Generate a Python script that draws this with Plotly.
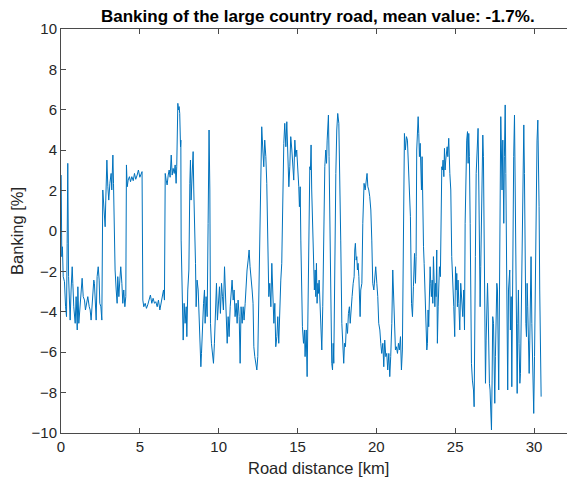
import plotly.graph_objects as go

# Road distance [km] and banking [%] along the large country road, section by section.
km_a = [0.01, 0.03, 0.05, 0.09, 0.14, 0.22, 0.29, 0.35, 0.39, 0.43, 0.48, 0.52, 0.58, 0.64, 0.71, 0.75,
        0.81, 0.90, 0.96, 1.03, 1.07, 1.13, 1.19, 1.28, 1.34, 1.41, 1.49, 1.55, 1.62, 1.70, 1.79, 1.85,
        1.91, 1.98, 2.04, 2.08, 2.12, 2.17, 2.23, 2.29, 2.36, 2.42, 2.46, 2.53, 2.59, 2.65, 2.72, 2.76,
        2.80, 2.84, 2.91, 2.97, 3.03, 3.10, 3.18, 3.22, 3.29, 3.33, 3.39, 3.43, 3.50, 3.56, 3.60, 3.67,
        3.73, 3.79, 3.86, 3.92, 3.98, 4.05, 4.11, 4.15, 4.20, 4.26, 4.34, 4.41, 4.49, 4.58, 4.66, 4.74,
        4.83, 4.91, 5.00, 5.08, 5.14, 5.19, 5.25, 5.34, 5.42, 5.50, 5.59, 5.67, 5.76, 5.84, 5.93, 6.01,
        6.10, 6.18, 6.27, 6.35, 6.44, 6.50, 6.56, 6.61, 6.67, 6.73, 6.80, 6.86, 6.92, 6.99, 7.05, 7.11,
        7.18, 7.24, 7.30, 7.34, 7.41, 7.45, 7.49, 7.53, 7.58, 7.60]
bank_a = [2.77, 0.71, -1.27, -0.78, -2.26, -2.51, -3.75, -4.24, -0.61, 3.35, -2.26, -3.25, -4.41, -2.92, -1.77, -2.59,
          -3.75, -4.57, -3.25, -4.90, -2.76, -4.57, -3.91, -2.59, -2.34, -3.25, -3.42, -3.91, -3.58, -3.25, -3.75, -3.91,
          -4.41, -3.42, -2.92, -2.43, -2.59, -3.58, -4.41, -2.26, -1.77, -2.43, -3.58, -3.75, -4.41, 2.03, 1.20, 0.71,
          0.21, 1.53, 3.51, 2.19, 1.53, 2.36, 2.85, 2.03, 3.76, 2.36, -0.94, -1.93, -2.92, -3.58, -2.26, -3.25,
          -2.43, -1.77, -2.59, -3.58, -2.92, -3.75, -3.25, 3.27, 2.19, 2.52, 2.69, 2.44, 2.69, 2.49, 2.85, 2.56,
          2.77, 3.02, 2.66, 2.85, 2.94, -3.42, -3.75, -3.58, -3.83, -3.66, -3.42, -3.17, -3.58, -3.33, -3.58, -3.50,
          -3.75, -3.42, -3.91, -3.58, -3.25, -2.92, -3.42, 2.85, 2.52, 2.28, 2.77, 3.02, 2.66, 3.76, 2.77, 3.10,
          2.85, 3.27, 2.36, 3.18, 6.32, 5.99, 6.16, 5.82, 4.17, 4.50]

km_b = [7.62, 7.70, 7.75, 7.81, 7.87, 7.94, 7.98, 8.04, 8.11, 8.17, 8.21, 8.25, 8.32, 8.38, 8.42, 8.49,
        8.53, 8.57, 8.63, 8.70, 8.76, 8.82, 8.87, 8.91, 8.97, 9.04, 9.10, 9.14, 9.20, 9.27, 9.33, 9.39,
        9.44, 9.48, 9.54, 9.61, 9.67, 9.73, 9.80, 9.86, 9.92, 9.99, 10.05, 10.11, 10.18, 10.24, 10.30, 10.37,
        10.41, 10.47, 10.54, 10.60, 10.66, 10.73, 10.79, 10.85, 10.92, 10.98, 11.04, 11.11, 11.17, 11.23, 11.30, 11.36,
        11.42, 11.49, 11.55, 11.61, 11.68, 11.74, 11.80, 11.87, 11.93, 11.99, 12.06, 12.12, 12.18, 12.23, 12.29, 12.35,
        12.42, 12.48, 12.54, 12.61, 12.67, 12.73, 12.80, 12.86, 12.92, 12.99, 13.05, 13.12, 13.18, 13.24, 13.31, 13.37,
        13.43, 13.50, 13.56, 13.62, 13.69, 13.75, 13.81, 13.88, 13.94, 14.00, 14.07, 14.13, 14.19, 14.26, 14.32, 14.38,
        14.45, 14.51, 14.57, 14.64, 14.70, 14.76, 14.83, 14.89, 14.95, 15.02]
bank_b = [-0.45, -3.25, -5.40, -3.58, -4.57, -3.75, -5.23, -2.92, -1.93, 2.36, 3.51, 1.53, 2.85, 3.93, 2.03, 0.05,
          -1.60, -3.75, -2.43, -2.92, -4.24, -5.89, -6.72, -6.06, -4.57, -3.58, -2.92, -4.57, -3.25, -4.24, 0.38, 5.00,
          2.03, -4.57, -5.56, -6.06, -6.55, -5.56, -3.09, -2.59, -4.41, -3.42, -2.76, -4.08, -2.59, -3.25, -3.91, -1.77,
          -2.92, -4.57, -5.56, -4.24, -5.23, -3.75, -3.25, -2.43, -3.42, -2.92, -4.24, -3.58, -4.57, -3.42, -4.24, -6.55,
          -3.75, -4.57, -3.75, -4.41, -3.58, -2.59, -1.93, -1.44, -0.94, -1.77, -2.26, -2.92, -3.58, -5.73, -6.22, -6.55,
          -6.88, -6.22, -3.58, -0.94, 2.36, 5.16, 4.01, 3.18, 4.50, 3.68, 2.36, -1.93, -3.25, -2.59, -3.75, -1.60,
          -2.92, -4.57, -3.58, -5.73, -5.23, -4.24, -5.56, -3.25, -2.43, -1.60, 2.85, 4.34, 5.33, 4.17, 5.41, 3.35,
          2.19, 3.18, 4.67, 4.01, 3.35, 2.52, 4.50, 3.68, 4.01, 3.18]

km_c = [15.08, 15.12, 15.17, 15.21, 15.25, 15.31, 15.38, 15.44, 15.48, 15.55, 15.61, 15.65, 15.69, 15.74, 15.78, 15.82,
        15.86, 15.90, 15.95, 15.99, 16.03, 16.07, 16.12, 16.16, 16.20, 16.24, 16.29, 16.33, 16.37, 16.41, 16.45, 16.50,
        16.54, 16.60, 16.67, 16.73, 16.79, 16.84, 16.88, 16.92, 16.96, 17.00, 17.05, 17.09, 17.13, 17.17, 17.22, 17.26,
        17.30, 17.34, 17.39, 17.43, 17.49, 17.55, 17.62, 17.68, 17.74, 17.81, 17.87, 17.93, 17.98, 18.04, 18.10, 18.17,
        18.23, 18.29, 18.34, 18.40, 18.46, 18.53, 18.59, 18.63, 18.67, 18.72, 18.76, 18.80, 18.84, 18.89, 18.93, 18.97,
        19.01, 19.08, 19.14, 19.18, 19.22, 19.29, 19.35, 19.41, 19.46, 19.52, 19.58, 19.65, 19.71, 19.77, 19.84, 19.90,
        19.96, 20.03, 20.09, 20.15, 20.22, 20.28, 20.34, 20.41, 20.47, 20.53, 20.60, 20.66, 20.72, 20.79, 20.85, 20.91,
        20.98, 21.04, 21.08, 21.15, 21.21, 21.27, 21.34, 21.40, 21.46, 21.53, 21.59, 21.65, 21.72, 21.78, 21.84, 21.91,
        21.97, 22.03, 22.10, 22.16, 22.23, 22.29, 22.35]
bank_c = [2.19, 1.20, 2.19, -0.45, -2.59, -4.74, -5.56, -4.90, -6.22, -4.90, -7.21, -4.57, 0.05, 2.36, 3.18, 3.02,
          4.26, 2.03, 0.54, -1.27, -2.26, -2.92, -1.93, -3.25, -1.60, -3.58, -2.59, -3.09, -2.43, -3.25, -4.57, -5.40,
          -5.89, -3.75, 1.04, 3.18, 4.01, 3.35, 4.50, 5.66, 5.74, 3.68, 0.38, -2.92, -5.40, -6.55, -6.88, -5.56,
          -6.55, -2.92, 0.38, 2.85, 5.00, 5.82, 5.33, 3.02, -0.45, -4.57, -6.22, -6.55, -5.56, -5.73, -4.57, -5.07,
          -4.08, -3.75, -4.57, -3.58, -3.25, -2.59, -2.26, -0.94, -0.61, -1.44, -1.27, -1.93, -1.60, -2.26, -2.92, -4.24,
          -2.92, -2.59, 0.38, 2.19, 2.36, 2.03, 2.69, 2.85, 2.19, 2.03, 1.70, 1.04, -0.45, -2.59, -2.92, -2.26,
          -1.77, -2.59, -3.25, -4.57, -4.90, -5.56, -6.06, -5.56, -6.72, -5.40, -6.22, -6.06, -6.88, -6.06, -7.21, -6.22,
          -4.57, -1.93, -2.92, -4.57, -5.89, -5.73, -6.06, -5.56, -5.89, -5.23, -6.88, -5.89, -1.27, 4.83, 4.01, 4.67,
          4.50, 3.51, 2.36, 0.71, -3.58, -4.24, -2.76]

km_d = [22.42, 22.48, 22.52, 22.56, 22.61, 22.65, 22.69, 22.73, 22.78, 22.82, 22.86, 22.90, 22.94, 22.99, 23.03, 23.07,
        23.11, 23.16, 23.20, 23.24, 23.28, 23.32, 23.37, 23.41, 23.45, 23.49, 23.54, 23.58, 23.62, 23.66, 23.71, 23.75,
        23.79, 23.83, 23.87, 23.92, 23.96, 24.00, 24.06, 24.11, 24.15, 24.19, 24.23, 24.28, 24.32, 24.36, 24.40, 24.45,
        24.49, 24.53, 24.59, 24.66, 24.72, 24.78, 24.85, 24.91, 24.97, 25.02, 25.06, 25.10, 25.14, 25.18, 25.23, 25.29,
        25.35, 25.42, 25.48, 25.54, 25.59, 25.63, 25.69, 25.73, 25.78, 25.82, 25.86, 25.90, 25.95, 25.99, 26.03, 26.09,
        26.16, 26.20, 26.24, 26.28, 26.33, 26.37, 26.41, 26.45, 26.50, 26.54, 26.58, 26.62, 26.66, 26.71, 26.75, 26.79,
        26.83, 26.88, 26.92, 26.96, 27.00, 27.05, 27.09, 27.13, 27.17, 27.21, 27.26, 27.30, 27.34, 27.38, 27.43, 27.47,
        27.51, 27.55, 27.59, 27.64, 27.68, 27.72, 27.76, 27.81, 27.85, 27.89, 27.93, 27.97, 28.02, 28.08, 28.12, 28.17,
        28.21, 28.25, 28.29, 28.33, 28.38, 28.42, 28.46, 28.50, 28.55, 28.59, 28.63, 28.67, 28.71, 28.76, 28.80, 28.84,
        28.88, 28.93, 28.97, 29.01, 29.05, 29.10, 29.14, 29.18, 29.22, 29.26, 29.31, 29.35, 29.39, 29.43, 29.48, 29.52,
        29.56, 29.60, 29.64, 29.69, 29.73, 29.77, 29.81, 29.86, 29.90, 29.94, 29.98, 30.03, 30.07, 30.11, 30.15, 30.19,
        30.24, 30.28, 30.32, 30.36, 30.38, 30.41, 30.45]
bank_d = [-1.11, -2.59, -1.27, 4.01, 4.67, 5.66, 4.83, 3.68, 4.34, 3.02, 2.03, 3.68, 0.38, -0.78, -1.60, -2.92,
          -4.24, -5.23, -5.89, -5.56, -3.91, -4.74, -2.92, -1.77, -2.59, -3.25, -2.43, -3.58, -1.27, -2.92, -3.75, -2.59,
          -3.25, -0.94, -5.56, -3.75, -2.92, -1.77, -2.26, 0.38, 3.18, 3.02, 3.51, 2.69, 4.09, 3.02, 3.51, 3.84,
          4.17, 3.68, 4.59, 2.85, 2.03, -1.27, -2.26, -3.75, -5.23, -1.77, -2.92, -2.10, -3.75, -2.43, -3.58, -4.90,
          -2.59, -3.25, -4.24, -2.92, -4.90, 0.38, 3.68, 4.50, 4.92, 3.35, 4.83, 3.68, 0.38, -5.07, -6.55, -7.38,
          -7.87, -8.70, -6.22, -1.27, 2.85, 4.01, 5.00, 5.08, 2.03, -1.27, -3.75, -1.77, 0.38, 3.02, 4.75, 3.68,
          0.38, -4.57, -7.54, -5.40, -3.75, -2.59, -3.91, -6.22, -7.54, -7.87, -8.86, -9.85, -7.38, -4.24, -4.57, -6.55,
          -8.53, -6.22, -4.41, -2.59, -2.92, -6.06, -7.87, -2.92, 2.85, 5.66, 4.01, 2.03, 4.50, 0.38, 3.68, 6.24,
          2.85, -2.92, -6.22, -7.87, -2.92, -2.26, -1.93, -4.90, -3.25, -7.71, -2.92, 0.38, 3.68, 5.74, 2.03, -2.92,
          -6.72, -8.04, -4.57, -2.92, -5.56, -7.54, -7.05, -4.57, -2.10, 2.03, 4.50, 5.25, 2.85, -1.27, -4.57, -5.23,
          -2.59, -3.75, -6.72, -7.05, -5.40, -2.59, -1.27, -4.57, -6.22, -7.87, -9.03, -6.22, -2.92, -0.45, 2.03, 4.50,
          5.49, 4.01, 1.20, -2.92, -4.57, -4.41, -8.20]

distance_km = km_a + km_b + km_c + km_d
banking_pct = bank_a + bank_b + bank_c + bank_d

x_ticks = [0, 5, 10, 15, 20, 25, 30]
y_ticks = [-10, -8, -6, -4, -2, 0, 2, 4, 6, 8, 10]

FONT = "Liberation Sans, Arial, Helvetica, sans-serif"
AXIS_COLOR = "#4a4a4a"
TEXT_COLOR = "#262626"

fig = go.Figure(
    go.Scatter(
        x=distance_km,
        y=banking_pct,
        mode="lines",
        line=dict(color="#0072BD", width=1),
        hoverinfo="x+y",
    )
)

axis_common = dict(
    ticks="inside",
    ticklen=5,
    tickwidth=1,
    tickcolor=AXIS_COLOR,
    showline=True,
    linecolor=AXIS_COLOR,
    linewidth=1,
    showgrid=False,
    zeroline=False,
    tickfont=dict(family=FONT, size=15, color=TEXT_COLOR),
)

fig.update_layout(
    width=567,
    height=483,
    margin=dict(l=61, r=0, t=29, b=50, pad=0),
    paper_bgcolor="white",
    plot_bgcolor="white",
    showlegend=False,
    xaxis=dict(range=[0, 32.09], tickvals=x_ticks, mirror="ticks", **axis_common),
    yaxis=dict(range=[-10, 10], tickvals=y_ticks, mirror=False, **axis_common),
    annotations=[
        dict(
            text="<b>Banking of the large country road, mean value: -1.7%.</b>",
            xref="paper", yref="paper", x=0.508, y=1.032,
            xanchor="center", yanchor="middle", showarrow=False,
            font=dict(family=FONT, size=17, color="black"),
        ),
        dict(
            text="Road distance [km]",
            xref="paper", yref="paper", x=0.509, y=-0.087,
            xanchor="center", yanchor="middle", showarrow=False,
            font=dict(family=FONT, size=16.5, color=TEXT_COLOR),
        ),
        dict(
            text="Banking [%]",
            xref="paper", yref="paper", x=-0.087, y=0.5,
            xanchor="center", yanchor="middle", showarrow=False, textangle=-90,
            font=dict(family=FONT, size=16.5, color=TEXT_COLOR),
        ),
    ],
)

fig.write_html("out.html")
